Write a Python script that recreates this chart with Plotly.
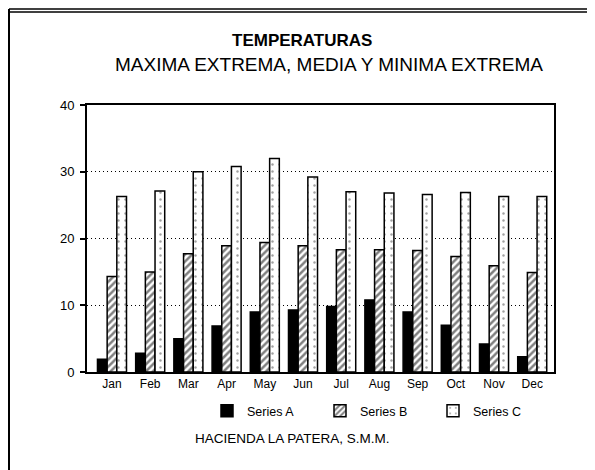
import plotly.graph_objects as go

months = ["Jan", "Feb", "Mar", "Apr", "May", "Jun", "Jul", "Aug", "Sep", "Oct", "Nov", "Dec"]
series_a = [1.9, 2.8, 5.0, 6.9, 9.0, 9.3, 9.8, 10.8, 9.0, 7.0, 4.2, 2.3]
series_b = [14.3, 15.0, 17.7, 18.9, 19.4, 18.9, 18.3, 18.3, 18.2, 17.3, 15.9, 14.9]
series_c = [26.3, 27.1, 30.0, 30.8, 32.0, 29.2, 27.0, 26.8, 26.6, 26.9, 26.3, 26.3]
y_ticks = [0, 10, 20, 30, 40]

# page body has an 8px margin; work in screen pixels and convert
OFF = 8
W, H = 595 - OFF, 470 - OFF
PL, PR, PT, PB = 87, 554, 105, 372          # plot area in screen px
L, T = PL - OFF, PT - OFF
R, B = W - (PR - OFF), H - (PB - OFF)
PW = PR - PL
PH = PB - PT


def px(x):
    return (x - PL) / PW


def py(y):
    return (PB - y) / PH


FONT = "Liberation Sans"

fig = go.Figure()
fig.add_trace(go.Bar(
    x=months, y=series_a, name="Series A",
    marker=dict(color="black", line=dict(color="black", width=1.5)),
))
fig.add_trace(go.Bar(
    x=months, y=series_b, name="Series B",
    marker=dict(color="white", line=dict(color="black", width=1.5),
                pattern=dict(shape="/", fgcolor="black", bgcolor="white",
                             size=5, solidity=0.5)),
))
fig.add_trace(go.Bar(
    x=months, y=series_c, name="Series C",
    marker=dict(color="white", line=dict(color="black", width=1.5),
                pattern=dict(shape=".", fgcolor="#444444", bgcolor="white",
                             size=7, solidity=0.1)),
))

fig.update_layout(
    width=W, height=H,
    margin=dict(l=L, r=R, t=T, b=B, pad=0),
    paper_bgcolor="white", plot_bgcolor="white",
    barmode="group", bargap=0.24, bargroupgap=0,
    font=dict(family=FONT, color="black", size=12),
    showlegend=True,
    legend=dict(orientation="h", x=px(207), y=py(411), xanchor="left", yanchor="middle",
                font=dict(size=12.5), itemwidth=30, entrywidth=68, entrywidthmode="pixels",
                traceorder="normal", bgcolor="rgba(0,0,0,0)"),
    xaxis=dict(
        range=[-0.654, 11.57], showgrid=False, showline=True, linecolor="black",
        linewidth=2, mirror=True, ticks="", tickfont=dict(size=12),
    ),
    yaxis=dict(
        range=[0, 40], tickvals=y_ticks, showgrid=True, gridcolor="black",
        griddash="1px,3px", gridwidth=1, showline=True, linecolor="black",
        linewidth=2, mirror=True, ticks="outside", ticklen=5, tickwidth=1.5,
        tickcolor="black", tickfont=dict(size=13), zeroline=False,
        ticklabelstandoff=3,
    ),
    annotations=[
        dict(text="<b>TEMPERATURAS</b>", x=px(302), y=py(40), xref="paper", yref="paper",
             showarrow=False, font=dict(size=17, family=FONT), xanchor="center", yanchor="middle"),
        dict(text="MAXIMA EXTREMA, MEDIA Y MINIMA EXTREMA", x=px(329), y=py(64),
             xref="paper", yref="paper", showarrow=False,
             font=dict(size=19, family=FONT), xanchor="center", yanchor="middle"),
        dict(text="HACIENDA LA PATERA, S.M.M.", x=px(292), y=py(438), xref="paper",
             yref="paper", showarrow=False, font=dict(size=13.5, family=FONT),
             xanchor="center", yanchor="middle"),
    ],
    shapes=[
        dict(type="line", xref="paper", yref="paper", x0=px(9), x1=px(595), y0=py(9), y1=py(9),
             line=dict(color="black", width=1.5)),
        dict(type="line", xref="paper", yref="paper", x0=px(9), x1=px(595), y0=py(12), y1=py(12),
             line=dict(color="black", width=1.5)),
        dict(type="line", xref="paper", yref="paper", x0=px(9), x1=px(9), y0=py(9), y1=py(470),
             line=dict(color="black", width=2)),
    ],
)

fig.write_html("out.html")
